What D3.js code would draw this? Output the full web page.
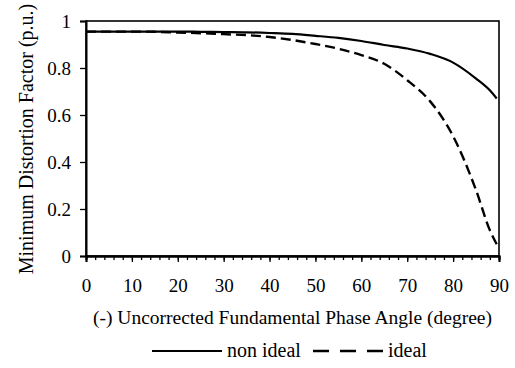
<!DOCTYPE html>
<html>
<head>
<meta charset="utf-8">
<script src="https://cdn.jsdelivr.net/npm/d3@7"></script>
<style>
	body { margin: 0; background: #fff; }
</style>
</head>
<body>
<script>

var serifFont = "Liberation Serif, DejaVu Serif, Times New Roman, serif";

// phase angle (degree)
var angles = [0, 5, 10, 15, 20, 25, 30, 35, 40, 45, 50, 55, 60, 65, 70, 75, 80, 85, 88, 89.5];

// minimum distortion factor, non ideal case
var nonIdeal = [0.955, 0.955, 0.955, 0.955, 0.955, 0.954, 0.953, 0.952, 0.949, 0.945, 0.937, 0.928, 0.915, 0.898, 0.883, 0.86, 0.823, 0.755, 0.705, 0.67];

// minimum distortion factor, ideal case
var ideal = [0.955, 0.955, 0.955, 0.954, 0.951, 0.948, 0.944, 0.94, 0.932, 0.919, 0.902, 0.882, 0.855, 0.818, 0.748, 0.658, 0.51, 0.28, 0.11, 0.05];

var xTicks = [0, 10, 20, 30, 40, 50, 60, 70, 80, 90];
var yTicks = [0, 0.2, 0.4, 0.6, 0.8, 1];
var seriesNames = ["non ideal", "ideal"];

var w = 515, h = 368;

var svg = d3.select("body")
	.append("svg")
	.attr("width", w)
	.attr("height", h)
	.attr("font-family", serifFont);

var xScale = d3.scaleLinear()
	.domain([0, 90])
	.range([86, 499]);

var yScale = d3.scaleLinear()
	.domain([0, 1])
	.range([256, 21]);

// frame round the plot
svg.append("rect")
	.attr("x", xScale(0))
	.attr("y", yScale(1))
	.attr("width", xScale(90) - xScale(0))
	.attr("height", yScale(0) - yScale(1))
	.attr("fill", "none")
	.attr("stroke", "#000")
	.attr("stroke-width", 1.6);

// x axis, minor ticks every 2 degrees
var xAxisG = svg.append("g")
	.attr("transform", "translate(0," + yScale(0) + ")");

xAxisG.call(d3.axisBottom(xScale).tickValues(d3.range(0, 91, 2)).tickSize(4).tickFormat(""));
xAxisG.append("g")
	.call(d3.axisBottom(xScale).tickValues(xTicks).tickSize(6).tickPadding(17));

// y axis
var yAxisG = svg.append("g")
	.attr("transform", "translate(" + xScale(0) + ",0)")
	.call(d3.axisLeft(yScale).tickValues(yTicks).tickSize(6).tickPadding(9)
		.tickFormat(function(d) { return d3.format("")(+d.toFixed(1)); }));

svg.selectAll("g").attr("font-family", serifFont);
svg.selectAll(".domain").attr("stroke-width", 2);
svg.selectAll(".tick line").attr("stroke-width", 1.3);
svg.selectAll(".tick text")
	.attr("font-size", 19)
	.attr("font-family", serifFont);

// axis titles
svg.append("text")
	.attr("x", (xScale(0) + xScale(90)) / 2)
	.attr("y", 324)
	.attr("text-anchor", "middle")
	.attr("font-size", 19.5)
	.text("(-) Uncorrected Fundamental Phase Angle (degree)");

svg.append("text")
	.attr("transform", "translate(33," + 139 + ") rotate(-90)")
	.attr("text-anchor", "middle")
	.attr("font-size", 20)
	.text("Minimum Distortion Factor (p.u.)");

// lines
var line = d3.line()
	.x(function(d) { return xScale(d[0]); })
	.y(function(d) { return yScale(d[1]); })
	.curve(d3.curveMonotoneX);

svg.append("path")
	.datum(angles.map(function(a, i) { return [a, nonIdeal[i]]; }))
	.attr("d", line)
	.attr("fill", "none")
	.attr("stroke", "#000")
	.attr("stroke-width", 2.2);

svg.append("path")
	.datum(angles.map(function(a, i) { return [a, ideal[i]]; }))
	.attr("d", line)
	.attr("fill", "none")
	.attr("stroke", "#000")
	.attr("stroke-width", 2.4)
	.attr("stroke-dasharray", "10,5");

// legend
var legendY = 351;

svg.append("line")
	.attr("x1", 152).attr("x2", 222)
	.attr("y1", legendY).attr("y2", legendY)
	.attr("stroke", "#000")
	.attr("stroke-width", 2.2);

svg.append("text")
	.attr("x", 227)
	.attr("y", legendY + 6)
	.attr("font-size", 20)
	.text(seriesNames[0]);

svg.append("line")
	.attr("x1", 313).attr("x2", 384)
	.attr("y1", legendY).attr("y2", legendY)
	.attr("stroke", "#000")
	.attr("stroke-width", 2.4)
	.attr("stroke-dasharray", "16,11");

svg.append("text")
	.attr("x", 388)
	.attr("y", legendY + 6)
	.attr("font-size", 20)
	.text(seriesNames[1]);

</script>
</body>
</html>
